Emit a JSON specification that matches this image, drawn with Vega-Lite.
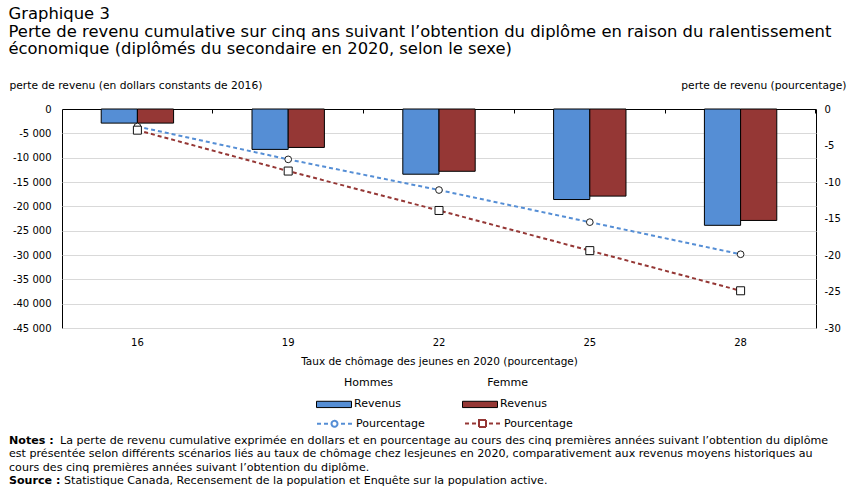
{
  "$schema": "https://vega.github.io/schema/vega-lite/v6.json",
  "padding": {"left": 8, "top": 6, "right": 6, "bottom": 2},
  "background": "white",
  "config": {"view": {"stroke": null}, "font": "DejaVu Sans"},
  "title": {
    "text": ["Graphique 3", "Perte de revenu cumulative sur cinq ans suivant l’obtention du diplôme en raison du ralentissement", "économique (diplômés du secondaire en 2020, selon le sexe)"],
    "anchor": "start", "frame": "bounds", "fontSize": 16.4, "font": "DejaVu Sans", "fontWeight": "normal", "lineHeight": 17.5, "color": "black", "offset": 21
  },
  "datasets": {
    "d": [
      {"taux": "16", "sexe": "Hommes", "serie": "Hommes %", "revenu": -2900, "pct": -2.4},
      {"taux": "16", "sexe": "Femme", "serie": "Femme %", "revenu": -2900, "pct": -2.9},
      {"taux": "19", "sexe": "Hommes", "serie": "Hommes %", "revenu": -8300, "pct": -6.9},
      {"taux": "19", "sexe": "Femme", "serie": "Femme %", "revenu": -7900, "pct": -8.5},
      {"taux": "22", "sexe": "Hommes", "serie": "Hommes %", "revenu": -13400, "pct": -11.1},
      {"taux": "22", "sexe": "Femme", "serie": "Femme %", "revenu": -12800, "pct": -13.9},
      {"taux": "25", "sexe": "Hommes", "serie": "Hommes %", "revenu": -18600, "pct": -15.5},
      {"taux": "25", "sexe": "Femme", "serie": "Femme %", "revenu": -17900, "pct": -19.4},
      {"taux": "28", "sexe": "Hommes", "serie": "Hommes %", "revenu": -23900, "pct": -19.9},
      {"taux": "28", "sexe": "Femme", "serie": "Femme %", "revenu": -22900, "pct": -24.9}
    ],
    "notes": [
      {"ligne": 1, "gras": "Notes :", "texte": "La perte de revenu cumulative exprimée en dollars et en pourcentage au cours des cinq premières années suivant l’obtention du diplôme"},
      {"ligne": 2, "gras": "", "texte": "est présentée selon différents scénarios liés au taux de chômage chez lesjeunes en 2020, comparativement aux revenus moyens historiques au"},
      {"ligne": 3, "gras": "", "texte": "cours des cinq premières années suivant l’obtention du diplôme."},
      {"ligne": 4, "gras": "Source :", "texte": "Statistique Canada, Recensement de la population et Enquête sur la population active."}
    ]
  },
  "spacing": 67,
  "vconcat": [
    {
      "width": 754,
      "height": 219,
      "data": {"name": "d"},
      "view": {"stroke": "black", "strokeWidth": 1},
      "layer": [
        {
          "layer": [
            {
              "mark": {"type": "bar", "stroke": "black", "strokeWidth": 1},
              "encoding": {
                "x": {
                  "field": "taux", "type": "nominal", "sort": null,
                  "scale": {"paddingInner": 0.52, "paddingOuter": 0.26},
                  "axis": {"orient": "bottom", "title": "Taux de chômage des jeunes en 2020 (pourcentage)", "labelAngle": 0, "ticks": false, "domain": false, "labelPadding": 9, "labelFont": "DejaVu Sans", "labelFontSize": 10, "labelColor": "black", "titleFont": "DejaVu Sans", "titleFontSize": 10.5, "titleFontWeight": "normal", "titlePadding": 9, "titleColor": "black"}
                },
                "xOffset": {"field": "sexe", "type": "nominal", "sort": ["Hommes", "Femme"], "scale": {"paddingInner": 0, "paddingOuter": 0}},
                "y": {
                  "field": "revenu", "type": "quantitative",
                  "scale": {"domain": [-45000, 0], "nice": false},
                  "axis": {"orient": "left", "values": [0, -5000, -10000, -15000, -20000, -25000, -30000, -35000, -40000, -45000], "grid": true, "gridColor": "#d9d9d9", "ticks": false, "domain": false, "labelFont": "DejaVu Sans", "labelFontSize": 10, "labelColor": "black", "labelPadding": 11, "labelExpr": "datum.value == 0 ? '0' : '-' + replace(format(-datum.value, ','), regexp(',', 'g'), ' ')", "title": "perte de revenu (en dollars constants de 2016)", "titleAngle": 0, "titleAlign": "left", "titleBaseline": "alphabetic", "titleX": -53, "titleY": -21, "titleFont": "DejaVu Sans", "titleFontSize": 10.7, "titleFontWeight": "normal", "titleColor": "black"}
                },
                "fill": {
                  "field": "sexe", "type": "nominal",
                  "scale": {"domain": ["Hommes", "Femme"], "range": ["#558ED5", "#953735"]},
                  "legend": {"orient": "none", "legendX": 254, "legendY": 268, "direction": "horizontal", "columns": 2, "columnPadding": 59, "title": "\u200b\u00a0\u00a0\u00a0\u00a0\u00a0\u00a0\u00a0\u00a0Hommes\u00a0\u00a0\u00a0\u00a0\u00a0\u00a0\u00a0\u00a0\u00a0\u00a0\u00a0\u00a0\u00a0\u00a0\u00a0\u00a0\u00a0\u00a0\u00a0\u00a0\u00a0\u00a0\u00a0\u00a0\u00a0\u00a0\u00a0Femme", "titleLimit": 600, "titleFont": "DejaVu Sans", "titleFontSize": 11, "titleFontWeight": "normal", "titleColor": "black", "titlePadding": -2, "labelExpr": "'Revenus'", "labelFont": "DejaVu Sans", "labelFontSize": 11, "labelColor": "black", "labelOffset": 2, "symbolType": "M-1,-0.18H1V0.18H-1Z", "symbolSize": 1225, "symbolStrokeColor": "black", "symbolStrokeWidth": 1, "symbolOpacity": 1}
                }
              }
            }
          ]
        },
        {
          "layer": [
            {
              "mark": {"type": "line", "strokeDash": [4, 3], "strokeWidth": 2},
              "encoding": {
                "x": {"field": "taux", "type": "nominal", "sort": null, "axis": {"orient": "top", "labels": false, "title": null, "domain": true, "domainColor": "black", "ticks": true, "bandPosition": 1.5416, "tickSize": -4, "tickColor": "black", "grid": false}},
                "y": {
                  "field": "pct", "type": "quantitative",
                  "scale": {"domain": [-30, 0], "nice": false},
                  "axis": {"orient": "right", "values": [0, -5, -10, -15, -20, -25, -30], "grid": false, "ticks": false, "domain": false, "labelPadding": 8, "labelFont": "DejaVu Sans", "labelFontSize": 10, "labelColor": "black", "labelExpr": "datum.value == 0 ? '0' : '-' + format(-datum.value, 'd')", "title": "perte de revenu (pourcentage)", "titleAngle": 0, "titleAlign": "right", "titleBaseline": "alphabetic", "titleX": 30, "titleY": -21, "titleFont": "DejaVu Sans", "titleFontSize": 10.7, "titleFontWeight": "normal", "titleColor": "black"}
                },
                "stroke": {
                  "field": "serie", "type": "nominal",
                  "scale": {"domain": ["Hommes %", "Femme %"], "range": ["#558ED5", "#953735"]},
                  "legend": {"orient": "none", "legendX": 254, "legendY": 296, "direction": "horizontal", "columns": 2, "columnPadding": 36, "title": null, "labelExpr": "'Pourcentage'", "labelFont": "DejaVu Sans", "labelFontSize": 11, "labelColor": "black", "labelOffset": 3, "symbolSize": 1225, "symbolStrokeWidth": 2, "symbolDash": [1, 0], "symbolFillColor": "white",
                    "encode": {"symbols": {"update": {"shape": {"signal": "datum.value === 'Hommes %' ? 'M-1,0H-0.77M-0.6,0H-0.37M0.37,0H0.6M0.77,0H1M0.17,0A0.17,0.17,0,1,1,-0.17,0A0.17,0.17,0,1,1,0.17,0Z' : 'M-1,0H-0.77M-0.6,0H-0.37M0.37,0H0.6M0.77,0H1M-0.2,-0.2H0.2V0.2H-0.2Z'"}, "fill": {"value": "white"}}}}}
                }
              }
            },
            {
              "transform": [{"filter": "datum.serie == 'Hommes %'"}],
              "mark": {"type": "point", "shape": "circle", "size": 45, "filled": true, "fill": "white", "stroke": "#222222", "strokeWidth": 1, "opacity": 1},
              "encoding": {
                "x": {"field": "taux", "type": "nominal", "sort": null, "axis": {"orient": "top", "labels": false, "title": null, "domain": true, "domainColor": "black", "ticks": true, "bandPosition": 1.5416, "tickSize": -4, "tickColor": "black", "grid": false}},
                "y": {"field": "pct", "type": "quantitative", "scale": {"domain": [-30, 0], "nice": false},
                  "axis": {"orient": "right", "values": [0, -5, -10, -15, -20, -25, -30], "grid": false, "ticks": false, "domain": false, "labelPadding": 8, "labelFont": "DejaVu Sans", "labelFontSize": 10, "labelColor": "black", "labelExpr": "datum.value == 0 ? '0' : '-' + format(-datum.value, 'd')", "title": "perte de revenu (pourcentage)", "titleAngle": 0, "titleAlign": "right", "titleBaseline": "alphabetic", "titleX": 30, "titleY": -21, "titleFont": "DejaVu Sans", "titleFontSize": 10.7, "titleFontWeight": "normal", "titleColor": "black"}}
              }
            },
            {
              "transform": [{"filter": "datum.serie == 'Femme %'"}],
              "mark": {"type": "point", "shape": "square", "size": 64, "filled": true, "fill": "white", "stroke": "#111111", "strokeWidth": 1, "opacity": 1},
              "encoding": {
                "x": {"field": "taux", "type": "nominal", "sort": null, "axis": {"orient": "top", "labels": false, "title": null, "domain": true, "domainColor": "black", "ticks": true, "bandPosition": 1.5416, "tickSize": -4, "tickColor": "black", "grid": false}},
                "y": {"field": "pct", "type": "quantitative", "scale": {"domain": [-30, 0], "nice": false},
                  "axis": {"orient": "right", "values": [0, -5, -10, -15, -20, -25, -30], "grid": false, "ticks": false, "domain": false, "labelPadding": 8, "labelFont": "DejaVu Sans", "labelFontSize": 10, "labelColor": "black", "labelExpr": "datum.value == 0 ? '0' : '-' + format(-datum.value, 'd')", "title": "perte de revenu (pourcentage)", "titleAngle": 0, "titleAlign": "right", "titleBaseline": "alphabetic", "titleX": 30, "titleY": -21, "titleFont": "DejaVu Sans", "titleFontSize": 10.7, "titleFontWeight": "normal", "titleColor": "black"}}
              }
            }
          ]
        }
      ],
      "resolve": {"scale": {"y": "independent"}, "axis": {"x": "independent"}}
    },
    {
      "width": 840,
      "height": 54,
      "data": {"name": "notes"},
      "encoding": {
        "y": {"field": "ligne", "type": "ordinal", "axis": null, "scale": {"paddingInner": 0, "paddingOuter": 0}}
      },
      "layer": [
        {"mark": {"type": "text", "align": "left", "baseline": "middle", "font": "DejaVu Sans", "fontSize": 11.1, "fontWeight": "bold", "color": "black"},
         "encoding": {"text": {"field": "gras"}, "x": {"value": -53}}},
        {"transform": [{"filter": "datum.ligne == 1"}],
         "mark": {"type": "text", "align": "left", "baseline": "middle", "font": "DejaVu Sans", "fontSize": 11.1, "color": "black", "dx": 51},
         "encoding": {"text": {"field": "texte"}, "x": {"value": -53}}},
        {"transform": [{"filter": "datum.ligne == 4"}],
         "mark": {"type": "text", "align": "left", "baseline": "middle", "font": "DejaVu Sans", "fontSize": 11.1, "color": "black", "dx": 55},
         "encoding": {"text": {"field": "texte"}, "x": {"value": -53}}},
        {"transform": [{"filter": "datum.ligne == 2 || datum.ligne == 3"}],
         "mark": {"type": "text", "align": "left", "baseline": "middle", "font": "DejaVu Sans", "fontSize": 11.1, "color": "black"},
         "encoding": {"text": {"field": "texte"}, "x": {"value": -53}}}
      ]
    }
  ]
}
